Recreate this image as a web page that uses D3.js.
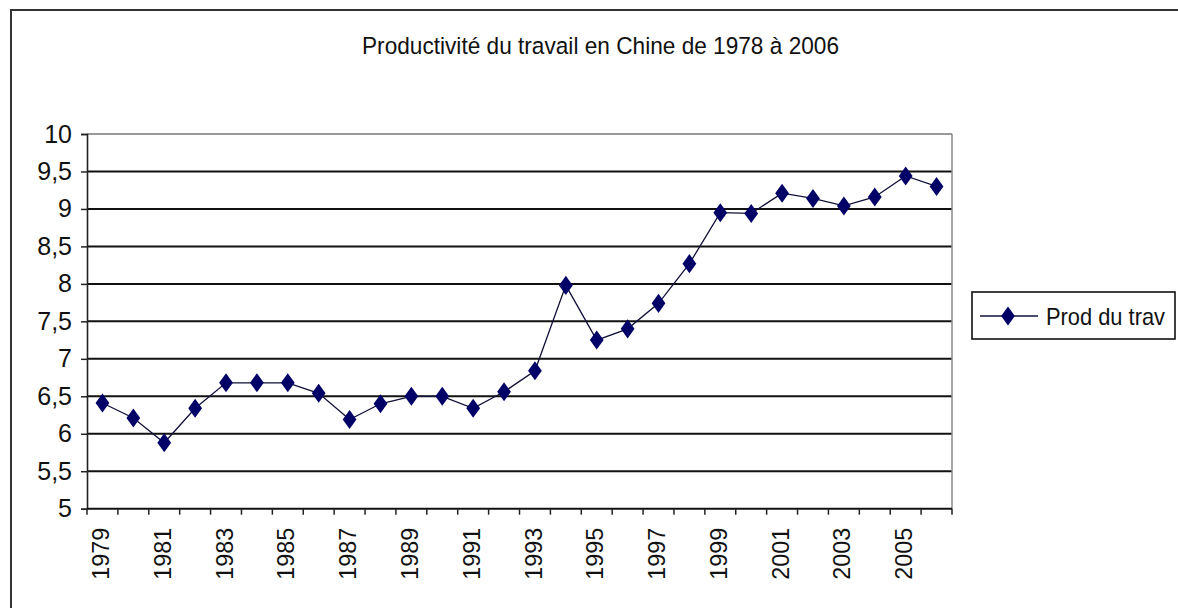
<!DOCTYPE html>
<html>
<head>
<meta charset="utf-8">
<script src="https://cdn.jsdelivr.net/npm/d3@7"></script>
<style>
  html, body { margin: 0; padding: 0; background: #fff; }
  svg { display: block; }
  text { font-family: "Liberation Sans", Arial, sans-serif; fill: #111; }
</style>
</head>
<body>
<svg id="chart" width="1178" height="608"></svg>
<script>
// Labour productivity in China, one value per year
const years = ["1979","1980","1981","1982","1983","1984","1985","1986","1987","1988",
               "1989","1990","1991","1992","1993","1994","1995","1996","1997","1998",
               "1999","2000","2001","2002","2003","2004","2005","2006"];
const prodValues = [6.41, 6.21, 5.88, 6.34, 6.68, 6.68, 6.68, 6.54, 6.19, 6.40,
                    6.50, 6.50, 6.34, 6.56, 6.84, 7.98, 7.25, 7.40, 7.74, 8.27,
                    8.95, 8.94, 9.21, 9.14, 9.04, 9.16, 9.44, 9.30];
const yTicks = [5, 5.5, 6, 6.5, 7, 7.5, 8, 8.5, 9, 9.5, 10];
const xLabelYears = years.filter((d, i) => i % 2 === 0);
const titleText = "Productivité du travail en Chine de 1978 à 2006";
const seriesName = "Prod du trav";

const svg = d3.select("#chart");
const plot = { left: 87, right: 952, top: 134, bottom: 508.7 };

// Outer chart frame (left and top edges fall inside the canvas)
svg.append("path")
  .attr("d", "M11,608 V10 H1178")
  .attr("fill", "none").attr("stroke", "#333").attr("stroke-width", 2);

const x = d3.scaleBand().domain(years).range([plot.left, plot.right]).padding(0);
const y = d3.scaleLinear().domain([5, 10]).range([plot.bottom, plot.top]);
const fmt = v => String(v).replace(".", ",");

// Horizontal gridlines
svg.append("g").selectAll("line")
  .data(yTicks.filter(v => v > 5))
  .join("line")
  .attr("x1", plot.left).attr("x2", plot.right)
  .attr("y1", d => y(d)).attr("y2", d => y(d))
  .attr("stroke", d => d === 10 ? "#777" : "#111")
  .attr("stroke-width", d => d === 10 ? 1.5 : 2);

// Right edge of plot area
svg.append("line")
  .attr("x1", plot.right).attr("x2", plot.right)
  .attr("y1", plot.top).attr("y2", plot.bottom)
  .attr("stroke", "#888").attr("stroke-width", 1.5);

// Y axis
const yAxis = d3.axisLeft(y).tickValues(yTicks).tickSize(6).tickPadding(9).tickFormat(fmt);
const gy = svg.append("g").attr("transform", `translate(${plot.left},0)`).call(yAxis);
gy.select(".domain").attr("stroke", "#222").attr("stroke-width", 1.6);
gy.selectAll(".tick line").attr("stroke", "#222").attr("stroke-width", 1.5);
gy.selectAll(".tick text")
  .attr("font-size", 25)
  .attr("font-family", "Liberation Sans, Arial, sans-serif")
  .attr("fill", "#111");

// X axis: ticks on category boundaries, labels every other year
svg.append("line")
  .attr("x1", plot.left).attr("x2", plot.right)
  .attr("y1", plot.bottom).attr("y2", plot.bottom)
  .attr("stroke", "#111").attr("stroke-width", 2);
const boundaries = years.map(d => x(d)).concat([plot.right]);
svg.append("g").selectAll("line")
  .data(boundaries)
  .join("line")
  .attr("x1", d => d).attr("x2", d => d)
  .attr("y1", plot.bottom).attr("y2", plot.bottom + 6)
  .attr("stroke", "#222").attr("stroke-width", 1.5);
svg.append("g").selectAll("text")
  .data(xLabelYears)
  .join("text")
  .attr("transform", d => `translate(${x(d) + x.bandwidth() / 2 - 2},${plot.bottom + 19}) rotate(-90)`)
  .attr("text-anchor", "end")
  .attr("dy", "0.35em")
  .attr("font-size", 24.5)
  .attr("textLength", 52)
  .attr("lengthAdjust", "spacingAndGlyphs")
  .text(d => d);

// Series line and diamond markers
const cx = d => x(d) + x.bandwidth() / 2;
const line = d3.line().x((v, i) => cx(years[i])).y(v => y(v));
svg.append("path")
  .datum(prodValues)
  .attr("d", line)
  .attr("fill", "none")
  .attr("stroke", "#10103a")
  .attr("stroke-width", 1.3);

const diamond = d3.symbol().type(d3.symbolDiamond).size(105);
svg.append("g").selectAll("path")
  .data(prodValues)
  .join("path")
  .attr("d", diamond)
  .attr("transform", (v, i) => `translate(${cx(years[i])},${y(v)}) scale(1.25,1)`)
  .attr("fill", "#000066");

// Title
svg.append("text")
  .attr("x", 362).attr("y", 54)
  .attr("font-size", 24.5)
  .attr("textLength", 477)
  .attr("lengthAdjust", "spacingAndGlyphs")
  .text(titleText);

// Legend
const lg = svg.append("g");
lg.append("rect")
  .attr("x", 972).attr("y", 292)
  .attr("width", 203).attr("height", 47)
  .attr("fill", "#fff").attr("stroke", "#111").attr("stroke-width", 1.6);
lg.append("line")
  .attr("x1", 980).attr("x2", 1038).attr("y1", 316).attr("y2", 316)
  .attr("stroke", "#10103a").attr("stroke-width", 1.3);
lg.append("path")
  .attr("d", diamond)
  .attr("transform", "translate(1008,316) scale(1.25,1)")
  .attr("fill", "#000066");
lg.append("text")
  .attr("x", 1046).attr("y", 325)
  .attr("font-size", 24)
  .attr("textLength", 119)
  .attr("lengthAdjust", "spacingAndGlyphs")
  .text(seriesName);
</script>
</body>
</html>
